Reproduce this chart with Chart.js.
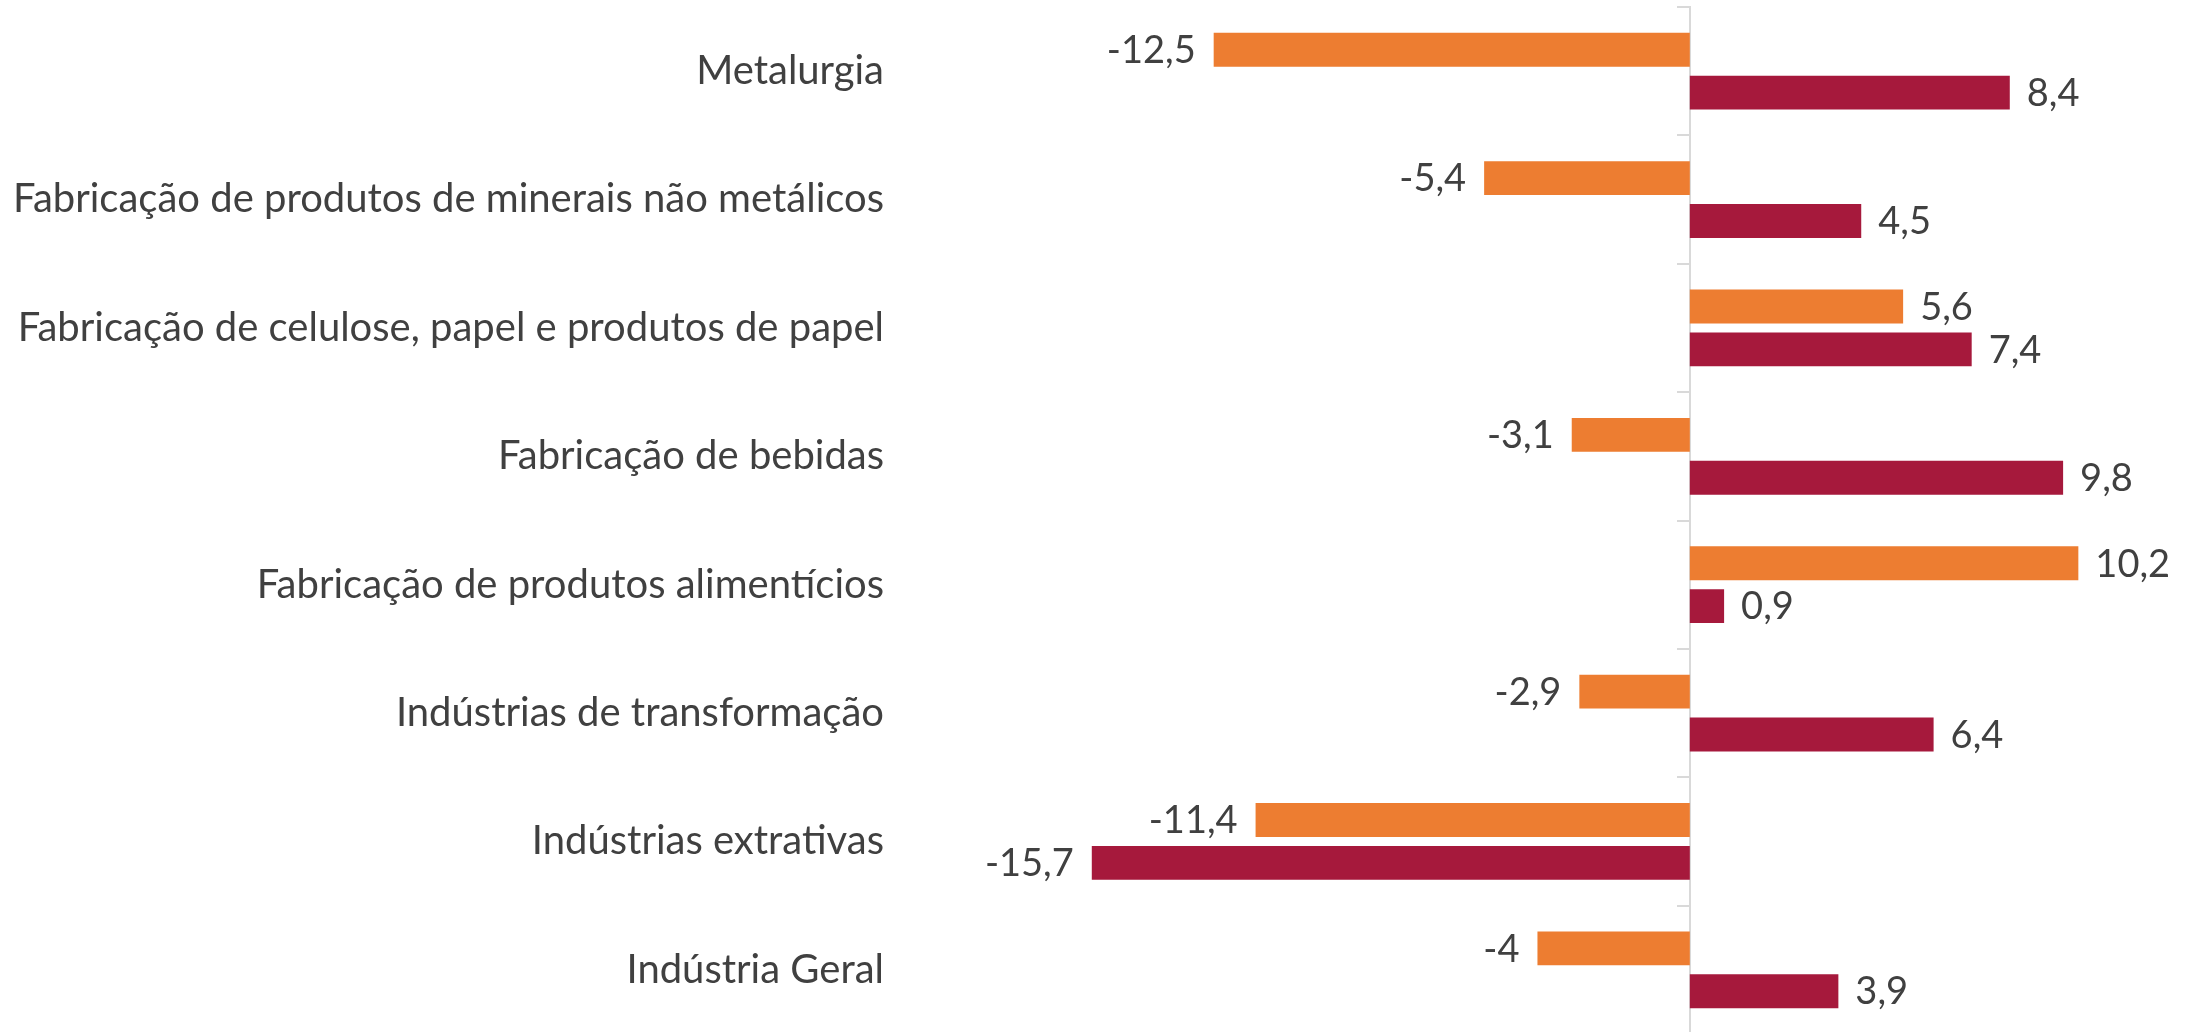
<!DOCTYPE html>
<html>
<head>
<meta charset="utf-8">
<script src="https://cdn.jsdelivr.net/npm/chart.js@4/dist/chart.umd.min.js"></script>
<style>
  html, body { margin: 0; padding: 0; background: #fff; overflow: hidden; }
  #wrap { width: 2195px; height: 1036px; }
</style>
</head>
<body>
<div id="wrap"><canvas id="grafico" width="2195" height="1036"></canvas></div>
<script>
const setores = [
    'Metalurgia',
    'Fabricação de produtos de minerais não metálicos',
    'Fabricação de celulose, papel e produtos de papel',
    'Fabricação de bebidas',
    'Fabricação de produtos alimentícios',
    'Indústrias de transformação',
    'Indústrias extrativas',
    'Indústria Geral'
]
const serieLaranja = [-12.5, -5.4, 5.6, -3.1, 10.2, -2.9, -11.4, -4]
const serieVinho = [8.4, 4.5, 7.4, 9.8, 0.9, 6.4, -15.7, 3.9]

const fonte = 'Lato, "Open Sans", sans-serif'

// rotulos de valor ao lado das barras
const rotulos = {
    id: 'rotulos',
    afterDatasetsDraw(chart) {
        const ctx = chart.ctx
        ctx.save()
        ctx.font = `38px ${fonte}`
        ctx.fillStyle = '#404040'
        ctx.textBaseline = 'middle'
        chart.data.datasets.forEach((ds, i) => {
            chart.getDatasetMeta(i).data.forEach((bar, j) => {
                const v = ds.data[j]
                const txt = String(v).replace('.', ',')
                if (v >= 0) {
                    ctx.textAlign = 'left'
                    ctx.fillText(txt, bar.x + 17, bar.y + 1)
                } else {
                    ctx.textAlign = 'right'
                    ctx.fillText(txt, bar.x - 18, bar.y + 1)
                }
            })
        })
        ctx.restore()
    }
}

new Chart(document.getElementById('grafico'), {
    type: 'bar',
    data: {
        labels: setores,
        datasets: [
            { label: 'Série 1', data: serieLaranja, backgroundColor: '#ED7D31', yAxisID: 'y' },
            { label: 'Série 2', data: serieVinho, backgroundColor: '#A6193C', yAxisID: 'y' }
        ]
    },
    options: {
        indexAxis: 'y',
        responsive: false,
        animation: false,
        devicePixelRatio: 1,
        categoryPercentage: 0.667,
        barPercentage: 0.79,
        layout: { padding: { top: 7, bottom: 2, right: 10, left: 0 } },
        plugins: {
            legend: { display: false },
            tooltip: { enabled: false }
        },
        scales: {
            x: {
                min: -20,
                max: 13,
                display: false
            },
            y: {
                position: 'left',
                grid: { display: false },
                border: { display: false },
                ticks: {
                    padding: 36,
                    color: '#404040',
                    font: { family: fonte, size: 40 }
                },
                afterFit(scale) {
                    scale.width = 928
                    scale.paddingTop = 0
                    scale.paddingBottom = 0
                }
            },
            eixoZero: {
                type: 'category',
                axis: 'y',
                position: { x: 0 },
                offset: true,
                grid: {
                    display: true,
                    offset: true,
                    drawOnChartArea: false,
                    drawTicks: true,
                    tickLength: 12,
                    color: '#d9d9d9',
                    lineWidth: 2
                },
                border: { display: true, color: '#d9d9d9', width: 2 },
                ticks: { display: false },
                afterFit(scale) {
                    scale.paddingTop = 0
                    scale.paddingBottom = 0
                }
            }
        }
    },
    plugins: [rotulos]
})
</script>
</body>
</html>
